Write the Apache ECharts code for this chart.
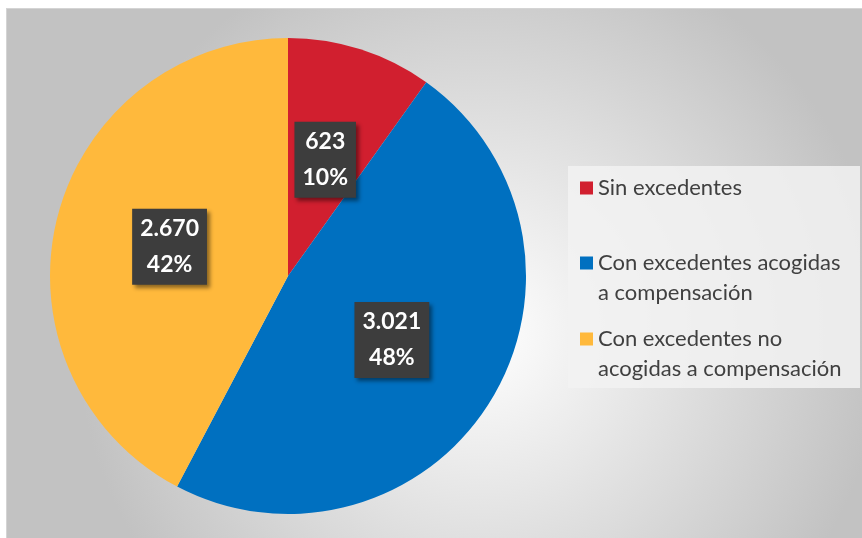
<!DOCTYPE html>
<html>
<head>
<meta charset="utf-8">
<script src="https://cdn.jsdelivr.net/npm/echarts@6/dist/echarts.min.js"></script>
<style>
html,body{margin:0;padding:0;background:#fff;overflow:hidden;width:862px;height:538px;}
#c{position:absolute;left:6px;top:8px;width:862px;height:540px;border-left:1px solid #d4d4d4;border-top:1px solid #d4d4d4;box-sizing:border-box;}
</style>
</head>
<body>
<div id="c"></div>
<script>
const categories = ['Sin excedentes', 'Con excedentes acogidas a compensación', 'Con excedentes no acogidas a compensación'];
const values = [623, 3021, 2670];
const percents = [10, 48, 42];
const colors = ['#D11F2F', '#0070C0', '#FFB93C'];
const legendLines = [['Sin excedentes'], ['Con excedentes acogidas', 'a compensación'], ['Con excedentes no', 'acogidas a compensación']];

function fmtNum(v){ return String(v).replace(/\B(?=(\d{3})+(?!\d))/g, '.'); }

const chart = echarts.init(document.getElementById('c'), null, {renderer:'canvas'});
const FONT = 'Lato, "Open Sans", sans-serif';
const LH = 30;
const iconCenters = [179, 254, 330];
const legends = categories.map((name, i) => {
  const multi = legendLines[i].length > 1;
  return {
    data: [name],
    left: 573,
    top: multi ? iconCenters[i] - 1.5 * LH : iconCenters[i] - 0.5 * LH,
    padding: 0,
    orient: 'vertical',
    itemWidth: 13,
    itemHeight: 13,
    itemGap: 0,
    icon: 'rect',
    selectedMode: false,
    formatter: () => (multi ? ' \n' : '') + legendLines[i].join('\n'),
    textStyle: { fontFamily: FONT, fontSize: 22, color: '#404040', lineHeight: LH }
  };
});

chart.setOption({
  backgroundColor: {
    type: 'radial', x: 0.55, y: 0.6, r: 0.75,
    colorStops: [{offset: 0, color: '#ffffff'}, {offset: 1, color: '#c2c2c2'}]
  },
  graphic: [{
    type: 'rect', left: 561, top: 157, shape: {width: 292, height: 222},
    style: {fill: 'rgba(242,242,242,0.85)'}, silent: true, z: 0
  }],
  legend: legends,
  series: [{
    type: 'pie',
    center: [281, 267],
    radius: [0, 238],
    startAngle: 90,
    clockwise: true,
    silent: true,
    label: {
      show: true,
      position: 'inside',
      formatter: p => fmtNum(p.value) + '\n' + percents[p.dataIndex] + '%',
      fontFamily: FONT,
      fontWeight: 'bold',
      fontSize: 23,
      lineHeight: 36,
      color: '#ffffff',
      backgroundColor: '#3d3d3d',
      padding: [2, 8, 2, 8],
      shadowColor: 'rgba(0,0,0,0.45)',
      shadowBlur: 4,
      shadowOffsetX: 3,
      shadowOffsetY: 3
    },
    labelLine: {show: false},
    itemStyle: {borderWidth: 0},
    data: categories.map((n, i) => ({name: n, value: values[i], itemStyle: {color: colors[i]}}))
  }]
});
</script>
</body>
</html>
